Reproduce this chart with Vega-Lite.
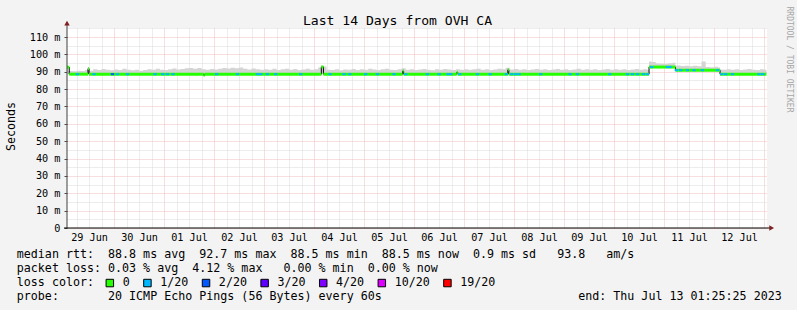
{
  "$schema": "https://vega.github.io/schema/vega-lite/v6.json",
  "width": 700,
  "height": 200,
  "autosize": {"type": "none"},
  "padding": {"left": 67, "top": 28, "right": 30, "bottom": 82},
  "background": "#f3f3f3",
  "config": {
    "view": {"fill": "#ffffff", "stroke": null},
    "font": "DejaVu Sans Mono",
    "axis": {"labelFont": "DejaVu Sans Mono", "titleFont": "DejaVu Sans Mono", "labelColor": "#000000", "titleColor": "#000000", "titleFontWeight": "normal"},
    "legend": {"labelFont": "DejaVu Sans Mono", "titleFont": "DejaVu Sans Mono"}
  },
  "title": {
    "text": "Last 14 Days from OVH CA",
    "anchor": "middle",
    "frame": "group",
    "dx": -19.5,
    "offset": -22,
    "font": "DejaVu Sans Mono",
    "fontSize": 13.1,
    "fontWeight": "normal",
    "color": "#000000"
  },
  "datasets": {
    "runs": [
      {"t": "2023-06-29T01:25:25Z", "t2": "2023-06-29T02:30:00Z", "m": 92.6},
      {"t": "2023-06-29T02:30:00Z", "t2": "2023-06-29T11:30:00Z", "m": 88.6},
      {"t": "2023-06-29T11:30:00Z", "t2": "2023-06-29T12:00:00Z", "m": 91.8},
      {"t": "2023-06-29T12:00:00Z", "t2": "2023-07-01T19:00:00Z", "m": 88.6},
      {"t": "2023-07-01T19:00:00Z", "t2": "2023-07-01T19:30:00Z", "m": 88.0},
      {"t": "2023-07-01T19:30:00Z", "t2": "2023-07-04T03:30:00Z", "m": 88.6},
      {"t": "2023-07-04T03:30:00Z", "t2": "2023-07-04T04:30:00Z", "m": 92.8},
      {"t": "2023-07-04T04:30:00Z", "t2": "2023-07-05T18:30:00Z", "m": 88.6},
      {"t": "2023-07-05T18:30:00Z", "t2": "2023-07-05T19:00:00Z", "m": 90.4},
      {"t": "2023-07-05T19:00:00Z", "t2": "2023-07-06T20:30:00Z", "m": 88.6},
      {"t": "2023-07-06T20:30:00Z", "t2": "2023-07-06T21:00:00Z", "m": 89.6},
      {"t": "2023-07-06T21:00:00Z", "t2": "2023-07-07T21:00:00Z", "m": 88.6},
      {"t": "2023-07-07T21:00:00Z", "t2": "2023-07-07T21:30:00Z", "m": 91.1},
      {"t": "2023-07-07T21:30:00Z", "t2": "2023-07-10T16:48:00Z", "m": 88.6},
      {"t": "2023-07-10T16:48:00Z", "t2": "2023-07-11T05:28:00Z", "m": 92.7},
      {"t": "2023-07-11T05:28:00Z", "t2": "2023-07-12T02:53:00Z", "m": 90.9},
      {"t": "2023-07-12T02:53:00Z", "t2": "2023-07-13T01:10:00Z", "m": 88.6}
    ],
    "loss": [
      {"t": "2023-06-29T06:26:00Z", "m": 88.6, "l": "1/20"},
      {"t": "2023-06-29T14:24:00Z", "m": 88.6, "l": "1/20"},
      {"t": "2023-06-29T23:14:00Z", "m": 88.6, "l": "2/20"},
      {"t": "2023-06-30T01:38:00Z", "m": 88.6, "l": "1/20"},
      {"t": "2023-06-30T06:26:00Z", "m": 88.6, "l": "1/20"},
      {"t": "2023-06-30T19:41:00Z", "m": 88.6, "l": "1/20"},
      {"t": "2023-06-30T23:23:00Z", "m": 88.6, "l": "1/20"},
      {"t": "2023-07-01T01:38:00Z", "m": 88.6, "l": "1/20"},
      {"t": "2023-07-01T04:19:00Z", "m": 88.6, "l": "1/20"},
      {"t": "2023-07-02T01:18:00Z", "m": 88.6, "l": "1/20"},
      {"t": "2023-07-02T11:14:00Z", "m": 88.6, "l": "1/20"},
      {"t": "2023-07-02T20:50:00Z", "m": 88.6, "l": "1/20"},
      {"t": "2023-07-02T22:25:00Z", "m": 88.6, "l": "1/20"},
      {"t": "2023-07-03T01:38:00Z", "m": 88.6, "l": "1/20"},
      {"t": "2023-07-03T05:37:00Z", "m": 88.6, "l": "1/20"},
      {"t": "2023-07-03T17:37:00Z", "m": 88.6, "l": "1/20"},
      {"t": "2023-07-04T07:41:00Z", "m": 88.6, "l": "1/20"},
      {"t": "2023-07-04T14:24:00Z", "m": 88.6, "l": "1/20"},
      {"t": "2023-07-04T17:08:00Z", "m": 88.6, "l": "1/20"},
      {"t": "2023-07-05T00:49:00Z", "m": 88.6, "l": "1/20"},
      {"t": "2023-07-05T06:26:00Z", "m": 88.6, "l": "1/20"},
      {"t": "2023-07-05T14:24:00Z", "m": 88.6, "l": "1/20"},
      {"t": "2023-07-05T20:01:00Z", "m": 88.6, "l": "1/20"},
      {"t": "2023-07-06T06:26:00Z", "m": 88.6, "l": "1/20"},
      {"t": "2023-07-06T12:00:00Z", "m": 88.6, "l": "1/20"},
      {"t": "2023-07-06T16:19:00Z", "m": 88.6, "l": "1/20"},
      {"t": "2023-07-06T17:37:00Z", "m": 88.6, "l": "1/20"},
      {"t": "2023-07-06T21:56:00Z", "m": 88.6, "l": "1/20"},
      {"t": "2023-07-07T06:26:00Z", "m": 88.6, "l": "1/20"},
      {"t": "2023-07-07T12:29:00Z", "m": 88.6, "l": "1/20"},
      {"t": "2023-07-07T20:20:00Z", "m": 88.6, "l": "1/20"},
      {"t": "2023-07-07T22:54:00Z", "m": 88.6, "l": "1/20"},
      {"t": "2023-07-08T00:49:00Z", "m": 88.6, "l": "1/20"},
      {"t": "2023-07-08T02:24:00Z", "m": 88.6, "l": "1/20"},
      {"t": "2023-07-08T12:49:00Z", "m": 88.6, "l": "1/20"},
      {"t": "2023-07-09T02:53:00Z", "m": 88.6, "l": "1/20"},
      {"t": "2023-07-09T06:26:00Z", "m": 88.6, "l": "1/20"},
      {"t": "2023-07-09T21:56:00Z", "m": 88.6, "l": "1/20"},
      {"t": "2023-07-10T06:26:00Z", "m": 88.6, "l": "1/20"},
      {"t": "2023-07-10T08:50:00Z", "m": 88.6, "l": "1/20"},
      {"t": "2023-07-10T11:14:00Z", "m": 88.6, "l": "1/20"},
      {"t": "2023-07-10T14:07:00Z", "m": 88.6, "l": "1/20"},
      {"t": "2023-07-10T16:02:00Z", "m": 88.6, "l": "1/20"},
      {"t": "2023-07-10T18:06:00Z", "m": 92.7, "l": "1/20"},
      {"t": "2023-07-11T01:38:00Z", "m": 92.7, "l": "1/20"},
      {"t": "2023-07-11T02:53:00Z", "m": 92.7, "l": "1/20"},
      {"t": "2023-07-11T05:57:00Z", "m": 90.9, "l": "1/20"},
      {"t": "2023-07-11T08:01:00Z", "m": 90.9, "l": "1/20"},
      {"t": "2023-07-11T11:14:00Z", "m": 90.9, "l": "1/20"},
      {"t": "2023-07-11T14:24:00Z", "m": 90.9, "l": "1/20"},
      {"t": "2023-07-11T18:26:00Z", "m": 90.9, "l": "1/20"},
      {"t": "2023-07-12T01:38:00Z", "m": 90.9, "l": "1/20"},
      {"t": "2023-07-12T03:42:00Z", "m": 88.6, "l": "1/20"},
      {"t": "2023-07-12T05:37:00Z", "m": 88.6, "l": "1/20"},
      {"t": "2023-07-12T08:50:00Z", "m": 88.6, "l": "1/20"},
      {"t": "2023-07-12T21:36:00Z", "m": 88.6, "l": "1/20"},
      {"t": "2023-07-12T23:23:00Z", "m": 88.6, "l": "1/20"}
    ],
    "smoke": [
      {"t": "2023-06-29T01:25:25Z", "lo": 88.6, "hi": 93.4},
      {"t": "2023-06-29T02:00:00Z", "lo": 88.6, "hi": 90.4},
      {"t": "2023-06-29T04:00:00Z", "lo": 88.6, "hi": 90.3},
      {"t": "2023-06-29T06:00:00Z", "lo": 88.6, "hi": 90.6},
      {"t": "2023-06-29T08:00:00Z", "lo": 88.6, "hi": 90.5},
      {"t": "2023-06-29T10:00:00Z", "lo": 88.6, "hi": 91.0},
      {"t": "2023-06-29T12:00:00Z", "lo": 88.6, "hi": 90.6},
      {"t": "2023-06-29T14:00:00Z", "lo": 88.6, "hi": 91.4},
      {"t": "2023-06-29T16:00:00Z", "lo": 88.6, "hi": 91.0},
      {"t": "2023-06-29T18:00:00Z", "lo": 88.6, "hi": 91.6},
      {"t": "2023-06-29T20:00:00Z", "lo": 88.6, "hi": 91.2},
      {"t": "2023-06-29T22:00:00Z", "lo": 88.6, "hi": 90.9},
      {"t": "2023-06-30T00:00:00Z", "lo": 88.6, "hi": 91.3},
      {"t": "2023-06-30T02:00:00Z", "lo": 88.6, "hi": 91.0},
      {"t": "2023-06-30T04:00:00Z", "lo": 88.6, "hi": 91.8},
      {"t": "2023-06-30T06:00:00Z", "lo": 88.6, "hi": 91.1},
      {"t": "2023-06-30T08:00:00Z", "lo": 88.6, "hi": 90.8},
      {"t": "2023-06-30T10:00:00Z", "lo": 88.6, "hi": 91.2},
      {"t": "2023-06-30T12:00:00Z", "lo": 88.6, "hi": 90.6},
      {"t": "2023-06-30T14:00:00Z", "lo": 88.6, "hi": 91.0},
      {"t": "2023-06-30T16:00:00Z", "lo": 88.6, "hi": 91.5},
      {"t": "2023-06-30T18:00:00Z", "lo": 88.6, "hi": 91.1},
      {"t": "2023-06-30T20:00:00Z", "lo": 88.6, "hi": 91.7},
      {"t": "2023-06-30T22:00:00Z", "lo": 88.6, "hi": 91.2},
      {"t": "2023-07-01T00:00:00Z", "lo": 88.6, "hi": 91.0},
      {"t": "2023-07-01T02:00:00Z", "lo": 88.6, "hi": 91.4},
      {"t": "2023-07-01T04:00:00Z", "lo": 88.6, "hi": 91.9},
      {"t": "2023-07-01T06:00:00Z", "lo": 88.6, "hi": 91.3},
      {"t": "2023-07-01T08:00:00Z", "lo": 88.6, "hi": 91.6},
      {"t": "2023-07-01T10:00:00Z", "lo": 88.6, "hi": 92.0},
      {"t": "2023-07-01T12:00:00Z", "lo": 88.6, "hi": 92.2},
      {"t": "2023-07-01T14:00:00Z", "lo": 88.6, "hi": 91.8},
      {"t": "2023-07-01T16:00:00Z", "lo": 88.6, "hi": 92.1},
      {"t": "2023-07-01T18:00:00Z", "lo": 88.6, "hi": 91.5},
      {"t": "2023-07-01T20:00:00Z", "lo": 88.6, "hi": 91.2},
      {"t": "2023-07-01T22:00:00Z", "lo": 88.6, "hi": 91.6},
      {"t": "2023-07-02T00:00:00Z", "lo": 88.6, "hi": 91.3},
      {"t": "2023-07-02T02:00:00Z", "lo": 88.6, "hi": 91.8},
      {"t": "2023-07-02T04:00:00Z", "lo": 88.6, "hi": 92.2},
      {"t": "2023-07-02T06:00:00Z", "lo": 88.6, "hi": 91.9},
      {"t": "2023-07-02T08:00:00Z", "lo": 88.6, "hi": 92.3},
      {"t": "2023-07-02T10:00:00Z", "lo": 88.6, "hi": 92.0},
      {"t": "2023-07-02T12:00:00Z", "lo": 88.6, "hi": 92.4},
      {"t": "2023-07-02T14:00:00Z", "lo": 88.6, "hi": 91.7},
      {"t": "2023-07-02T16:00:00Z", "lo": 88.6, "hi": 91.3},
      {"t": "2023-07-02T18:00:00Z", "lo": 88.6, "hi": 91.9},
      {"t": "2023-07-02T20:00:00Z", "lo": 88.6, "hi": 91.4},
      {"t": "2023-07-02T22:00:00Z", "lo": 88.6, "hi": 91.1},
      {"t": "2023-07-03T00:00:00Z", "lo": 88.6, "hi": 91.5},
      {"t": "2023-07-03T02:00:00Z", "lo": 88.6, "hi": 91.2},
      {"t": "2023-07-03T04:00:00Z", "lo": 88.6, "hi": 91.7},
      {"t": "2023-07-03T06:00:00Z", "lo": 88.6, "hi": 91.0},
      {"t": "2023-07-03T08:00:00Z", "lo": 88.6, "hi": 91.4},
      {"t": "2023-07-03T10:00:00Z", "lo": 88.6, "hi": 91.8},
      {"t": "2023-07-03T12:00:00Z", "lo": 88.6, "hi": 91.2},
      {"t": "2023-07-03T14:00:00Z", "lo": 88.6, "hi": 91.6},
      {"t": "2023-07-03T16:00:00Z", "lo": 88.6, "hi": 91.0},
      {"t": "2023-07-03T18:00:00Z", "lo": 88.6, "hi": 91.3},
      {"t": "2023-07-03T20:00:00Z", "lo": 88.6, "hi": 91.7},
      {"t": "2023-07-03T22:00:00Z", "lo": 88.6, "hi": 91.2},
      {"t": "2023-07-04T00:00:00Z", "lo": 88.6, "hi": 91.4},
      {"t": "2023-07-04T02:00:00Z", "lo": 88.6, "hi": 92.4},
      {"t": "2023-07-04T04:00:00Z", "lo": 88.6, "hi": 93.0},
      {"t": "2023-07-04T06:00:00Z", "lo": 88.6, "hi": 91.2},
      {"t": "2023-07-04T08:00:00Z", "lo": 88.6, "hi": 91.0},
      {"t": "2023-07-04T10:00:00Z", "lo": 88.6, "hi": 91.5},
      {"t": "2023-07-04T12:00:00Z", "lo": 88.6, "hi": 90.9},
      {"t": "2023-07-04T14:00:00Z", "lo": 88.6, "hi": 91.3},
      {"t": "2023-07-04T16:00:00Z", "lo": 88.6, "hi": 91.1},
      {"t": "2023-07-04T18:00:00Z", "lo": 88.6, "hi": 91.6},
      {"t": "2023-07-04T20:00:00Z", "lo": 88.6, "hi": 91.0},
      {"t": "2023-07-04T22:00:00Z", "lo": 88.6, "hi": 91.4},
      {"t": "2023-07-05T00:00:00Z", "lo": 88.6, "hi": 91.2},
      {"t": "2023-07-05T02:00:00Z", "lo": 88.6, "hi": 91.7},
      {"t": "2023-07-05T04:00:00Z", "lo": 88.6, "hi": 91.3},
      {"t": "2023-07-05T06:00:00Z", "lo": 88.6, "hi": 91.0},
      {"t": "2023-07-05T08:00:00Z", "lo": 88.6, "hi": 91.5},
      {"t": "2023-07-05T10:00:00Z", "lo": 88.6, "hi": 91.8},
      {"t": "2023-07-05T12:00:00Z", "lo": 88.6, "hi": 91.2},
      {"t": "2023-07-05T14:00:00Z", "lo": 88.6, "hi": 91.0},
      {"t": "2023-07-05T16:00:00Z", "lo": 88.6, "hi": 91.4},
      {"t": "2023-07-05T18:00:00Z", "lo": 88.6, "hi": 92.0},
      {"t": "2023-07-05T20:00:00Z", "lo": 88.6, "hi": 91.1},
      {"t": "2023-07-05T22:00:00Z", "lo": 88.6, "hi": 91.5},
      {"t": "2023-07-06T00:00:00Z", "lo": 88.6, "hi": 91.0},
      {"t": "2023-07-06T02:00:00Z", "lo": 88.6, "hi": 91.3},
      {"t": "2023-07-06T04:00:00Z", "lo": 88.6, "hi": 91.6},
      {"t": "2023-07-06T06:00:00Z", "lo": 88.6, "hi": 91.2},
      {"t": "2023-07-06T08:00:00Z", "lo": 88.6, "hi": 90.9},
      {"t": "2023-07-06T10:00:00Z", "lo": 88.6, "hi": 91.4},
      {"t": "2023-07-06T12:00:00Z", "lo": 88.6, "hi": 91.1},
      {"t": "2023-07-06T14:00:00Z", "lo": 88.6, "hi": 91.6},
      {"t": "2023-07-06T16:00:00Z", "lo": 88.6, "hi": 91.3},
      {"t": "2023-07-06T18:00:00Z", "lo": 88.6, "hi": 91.0},
      {"t": "2023-07-06T20:00:00Z", "lo": 88.6, "hi": 91.5},
      {"t": "2023-07-06T22:00:00Z", "lo": 88.6, "hi": 91.2},
      {"t": "2023-07-07T00:00:00Z", "lo": 88.6, "hi": 91.5},
      {"t": "2023-07-07T02:00:00Z", "lo": 88.6, "hi": 91.1},
      {"t": "2023-07-07T04:00:00Z", "lo": 88.6, "hi": 91.4},
      {"t": "2023-07-07T06:00:00Z", "lo": 88.6, "hi": 91.8},
      {"t": "2023-07-07T08:00:00Z", "lo": 88.6, "hi": 91.2},
      {"t": "2023-07-07T10:00:00Z", "lo": 88.6, "hi": 91.5},
      {"t": "2023-07-07T12:00:00Z", "lo": 88.6, "hi": 91.0},
      {"t": "2023-07-07T14:00:00Z", "lo": 88.6, "hi": 91.3},
      {"t": "2023-07-07T16:00:00Z", "lo": 88.6, "hi": 91.7},
      {"t": "2023-07-07T18:00:00Z", "lo": 88.6, "hi": 91.4},
      {"t": "2023-07-07T20:00:00Z", "lo": 88.6, "hi": 92.3},
      {"t": "2023-07-07T22:00:00Z", "lo": 88.6, "hi": 91.3},
      {"t": "2023-07-08T00:00:00Z", "lo": 88.6, "hi": 91.6},
      {"t": "2023-07-08T02:00:00Z", "lo": 88.6, "hi": 91.2},
      {"t": "2023-07-08T04:00:00Z", "lo": 88.6, "hi": 91.4},
      {"t": "2023-07-08T06:00:00Z", "lo": 88.6, "hi": 91.0},
      {"t": "2023-07-08T08:00:00Z", "lo": 88.6, "hi": 91.3},
      {"t": "2023-07-08T10:00:00Z", "lo": 88.6, "hi": 91.6},
      {"t": "2023-07-08T12:00:00Z", "lo": 88.6, "hi": 91.1},
      {"t": "2023-07-08T14:00:00Z", "lo": 88.6, "hi": 91.4},
      {"t": "2023-07-08T16:00:00Z", "lo": 88.6, "hi": 91.0},
      {"t": "2023-07-08T18:00:00Z", "lo": 88.6, "hi": 91.3},
      {"t": "2023-07-08T20:00:00Z", "lo": 88.6, "hi": 91.6},
      {"t": "2023-07-08T22:00:00Z", "lo": 88.6, "hi": 91.2},
      {"t": "2023-07-09T00:00:00Z", "lo": 88.6, "hi": 91.4},
      {"t": "2023-07-09T02:00:00Z", "lo": 88.6, "hi": 91.0},
      {"t": "2023-07-09T04:00:00Z", "lo": 88.6, "hi": 91.3},
      {"t": "2023-07-09T06:00:00Z", "lo": 88.6, "hi": 91.7},
      {"t": "2023-07-09T08:00:00Z", "lo": 88.6, "hi": 91.2},
      {"t": "2023-07-09T10:00:00Z", "lo": 88.6, "hi": 91.5},
      {"t": "2023-07-09T12:00:00Z", "lo": 88.6, "hi": 91.1},
      {"t": "2023-07-09T14:00:00Z", "lo": 88.6, "hi": 91.4},
      {"t": "2023-07-09T16:00:00Z", "lo": 88.6, "hi": 91.0},
      {"t": "2023-07-09T18:00:00Z", "lo": 88.6, "hi": 91.3},
      {"t": "2023-07-09T20:00:00Z", "lo": 88.6, "hi": 91.6},
      {"t": "2023-07-09T22:00:00Z", "lo": 88.6, "hi": 91.2},
      {"t": "2023-07-10T00:00:00Z", "lo": 88.6, "hi": 91.5},
      {"t": "2023-07-10T02:00:00Z", "lo": 88.6, "hi": 91.1},
      {"t": "2023-07-10T04:00:00Z", "lo": 88.6, "hi": 91.4},
      {"t": "2023-07-10T06:00:00Z", "lo": 88.6, "hi": 91.0},
      {"t": "2023-07-10T08:00:00Z", "lo": 88.6, "hi": 91.3},
      {"t": "2023-07-10T10:00:00Z", "lo": 88.6, "hi": 91.6},
      {"t": "2023-07-10T12:00:00Z", "lo": 88.6, "hi": 91.2},
      {"t": "2023-07-10T14:00:00Z", "lo": 88.6, "hi": 91.4},
      {"t": "2023-07-10T16:00:00Z", "lo": 88.6, "hi": 91.0},
      {"t": "2023-07-10T16:48:00Z", "lo": 92.7, "hi": 95.9},
      {"t": "2023-07-10T18:00:00Z", "lo": 92.7, "hi": 95.6},
      {"t": "2023-07-10T20:00:00Z", "lo": 92.7, "hi": 94.8},
      {"t": "2023-07-10T22:00:00Z", "lo": 92.7, "hi": 94.6},
      {"t": "2023-07-11T00:00:00Z", "lo": 92.7, "hi": 94.4},
      {"t": "2023-07-11T02:00:00Z", "lo": 92.7, "hi": 94.9},
      {"t": "2023-07-11T04:00:00Z", "lo": 92.7, "hi": 95.2},
      {"t": "2023-07-11T05:28:00Z", "lo": 90.9, "hi": 93.4},
      {"t": "2023-07-11T06:00:00Z", "lo": 90.9, "hi": 93.6},
      {"t": "2023-07-11T08:00:00Z", "lo": 90.9, "hi": 93.3},
      {"t": "2023-07-11T10:00:00Z", "lo": 90.9, "hi": 93.5},
      {"t": "2023-07-11T12:00:00Z", "lo": 90.9, "hi": 93.2},
      {"t": "2023-07-11T14:00:00Z", "lo": 90.9, "hi": 93.4},
      {"t": "2023-07-11T16:00:00Z", "lo": 90.9, "hi": 93.1},
      {"t": "2023-07-11T18:00:00Z", "lo": 90.9, "hi": 95.9},
      {"t": "2023-07-11T20:00:00Z", "lo": 90.9, "hi": 92.8},
      {"t": "2023-07-11T22:00:00Z", "lo": 90.9, "hi": 92.6},
      {"t": "2023-07-12T00:00:00Z", "lo": 90.9, "hi": 92.9},
      {"t": "2023-07-12T02:00:00Z", "lo": 90.9, "hi": 92.5},
      {"t": "2023-07-12T02:53:00Z", "lo": 88.6, "hi": 91.3},
      {"t": "2023-07-12T04:00:00Z", "lo": 88.6, "hi": 91.2},
      {"t": "2023-07-12T06:00:00Z", "lo": 88.6, "hi": 91.5},
      {"t": "2023-07-12T08:00:00Z", "lo": 88.6, "hi": 91.1},
      {"t": "2023-07-12T10:00:00Z", "lo": 88.6, "hi": 91.4},
      {"t": "2023-07-12T12:00:00Z", "lo": 88.6, "hi": 91.0},
      {"t": "2023-07-12T14:00:00Z", "lo": 88.6, "hi": 91.3},
      {"t": "2023-07-12T16:00:00Z", "lo": 88.6, "hi": 91.6},
      {"t": "2023-07-12T18:00:00Z", "lo": 88.6, "hi": 91.2},
      {"t": "2023-07-12T20:00:00Z", "lo": 88.6, "hi": 91.0},
      {"t": "2023-07-12T22:00:00Z", "lo": 88.6, "hi": 91.4},
      {"t": "2023-07-13T00:00:00Z", "lo": 88.6, "hi": 91.2},
      {"t": "2023-07-13T01:10:00Z", "lo": 88.6, "hi": 91.2}
    ]
  },
  "layer": [
    {
      "data": {"name": "smoke"},
      "mark": {"type": "area", "interpolate": "step-after", "color": "#d4d4d4"},
      "encoding": {
        "x": {
          "field": "t", "type": "temporal",
          "scale": {"type": "utc", "nice": false, "domain": [1688001925000, 1689211525000]},
          "axis": {
            "orient": "bottom",
            "values": [1688018400000, 1688040000000, 1688061600000, 1688104800000, 1688126400000, 1688148000000, 1688191200000, 1688212800000, 1688234400000, 1688277600000, 1688299200000, 1688320800000, 1688364000000, 1688385600000, 1688407200000, 1688450400000, 1688472000000, 1688493600000, 1688536800000, 1688558400000, 1688580000000, 1688623200000, 1688644800000, 1688666400000, 1688709600000, 1688731200000, 1688752800000, 1688796000000, 1688817600000, 1688839200000, 1688882400000, 1688904000000, 1688925600000, 1688968800000, 1688990400000, 1689012000000, 1689055200000, 1689076800000, 1689098400000, 1689141600000, 1689163200000, 1689184800000],
            "grid": true,
            "gridColor": "#dadada",
            "gridDash": [1, 1],
            "labels": false,
            "ticks": false,
            "domain": false,
            "title": [
              "median rtt:\u00a0\u00a088.8 ms avg\u00a0\u00a092.7 ms max\u00a0\u00a088.5 ms min\u00a0\u00a088.5 ms now\u00a0\u00a00.9 ms sd\u00a0\u00a0\u00a093.8\u00a0\u00a0\u00a0am/s",
              "packet loss:\u00a00.03 % avg\u00a0\u00a04.12 % max\u00a0\u00a0\u00a00.00 % min\u00a0\u00a00.00 % now",
              "loss color:",
              "probe:\u00a0\u00a0\u00a0\u00a0\u00a0\u00a0\u00a020 ICMP Echo Pings (56 Bytes) every 60s\u00a0\u00a0\u00a0\u00a0\u00a0\u00a0\u00a0\u00a0\u00a0\u00a0\u00a0\u00a0\u00a0\u00a0\u00a0\u00a0\u00a0\u00a0\u00a0\u00a0\u00a0\u00a0\u00a0\u00a0\u00a0\u00a0\u00a0\u00a0end: Thu Jul 13 01:25:25 2023"
            ],
            "titleFontSize": 11.66,
            "titleAlign": "left",
            "titleBaseline": "alphabetic",
            "titleAngle": 0,
            "titleX": -50.7,
            "titleY": 29.3,
            "titleLineHeight": 14.23
          }
        },
        "y": {
          "field": "hi", "type": "quantitative",
          "scale": {"domain": [0, 115.2], "nice": false, "zero": false},
          "axis": {
            "orient": "left",
            "values": [5, 15, 25, 35, 45, 55, 65, 75, 85, 95, 105, 115],
            "grid": true,
            "gridColor": "#dadada",
            "gridDash": [1, 1],
            "labels": false,
            "ticks": false,
            "domain": false,
            "title": null
          }
        },
        "y2": {"field": "lo"}
      }
    },
    {
      "data": {"name": "runs"},
      "mark": {"type": "line", "interpolate": "step-after", "color": "#000000", "strokeWidth": 1},
      "encoding": {
        "x": {
          "field": "t", "type": "temporal",
          "axis": {
            "orient": "bottom",
            "values": [1688040000000, 1688126400000, 1688212800000, 1688299200000, 1688385600000, 1688472000000, 1688558400000, 1688644800000, 1688731200000, 1688817600000, 1688904000000, 1688990400000, 1689076800000, 1689163200000],
            "format": "%d %b",
            "grid": false,
            "ticks": false,
            "domain": false,
            "labelFontSize": 10.2,
            "labelBaseline": "alphabetic",
            "labelPadding": 12.5,
            "labelOverlap": false,
            "labelFlush": false,
            "title": null
          }
        },
        "y": {
          "field": "m", "type": "quantitative",
          "axis": {
            "orient": "right",
            "labels": false,
            "ticks": false,
            "domain": false,
            "grid": false,
            "title": "RRDTOOL / TOBI OETIKER",
            "titleFontSize": 8,
            "titleColor": "#a6a6a6",
            "titleAngle": 90,
            "titleAlign": "center",
            "titleBaseline": "middle",
            "titleX": 21,
            "titleY": 31
          }
        }
      }
    },
    {
      "data": {"name": "runs"},
      "mark": {"type": "rule", "color": "#26ff00", "strokeWidth": 3},
      "encoding": {
        "x": {
          "field": "t", "type": "temporal",
          "axis": {
            "orient": "bottom",
            "values": [1688083200000, 1688169600000, 1688256000000, 1688342400000, 1688428800000, 1688515200000, 1688601600000, 1688688000000, 1688774400000, 1688860800000, 1688947200000, 1689033600000, 1689120000000, 1689206400000],
            "grid": true,
            "gridColor": "#f0bcbc",
            "gridDash": [1, 1],
            "labels": false,
            "ticks": false,
            "domain": false,
            "title": null
          }
        },
        "x2": {"field": "t2"},
        "y": {
          "field": "m", "type": "quantitative",
          "axis": {
            "orient": "left",
            "values": [0, 10, 20, 30, 40, 50, 60, 70, 80, 90, 100, 110],
            "grid": true,
            "gridColor": "#f0bcbc",
            "gridDash": [1, 1],
            "labelExpr": "datum.value == 0 ? '0' : datum.value + ' m'",
            "labelFontSize": 10.2,
            "labelOverlap": false,
            "labelPadding": 4,
            "ticks": true,
            "tickSize": 3,
            "tickColor": "#505050",
            "domain": false,
            "title": "Seconds",
            "titleFontSize": 11.66,
            "titleAngle": -90,
            "titleAlign": "center",
            "titleBaseline": "middle",
            "titleX": -56,
            "titleY": 98
          }
        }
      }
    },
    {
      "data": {"name": "loss"},
      "mark": {"type": "tick", "size": 3.4, "thickness": 2, "opacity": 1},
      "encoding": {
        "x": {"field": "t", "type": "temporal", "axis": null},
        "y": {"field": "m", "type": "quantitative", "axis": null},
        "color": {
          "field": "l", "type": "nominal",
          "scale": {
            "domain": ["0", "1/20", "2/20", "3/20", "4/20", "10/20", "19/20"],
            "range": ["#26ff00", "#00b8ff", "#0059ff", "#5e00ff", "#7e00ff", "#dd00ff", "#ff0000"]
          },
          "legend": {
            "orient": "none",
            "legendX": 37,
            "legendY": 249,
            "direction": "horizontal",
            "title": null,
            "padding": 0,
            "symbolType": "square",
            "symbolSize": 56,
            "symbolStrokeColor": "#000000",
            "symbolStrokeWidth": 1,
            "symbolOpacity": 1,
            "labelFontSize": 11.66,
            "labelColor": "#000000",
            "labelOffset": 7,
            "columnPadding": 11.6
          }
        }
      }
    },
    {
      "data": {"values": [{}]},
      "mark": {"type": "rule", "color": "#404040", "strokeWidth": 1},
      "encoding": {
        "x": {"datum": 1688001925000, "type": "temporal", "axis": null},
        "y": {"datum": 0, "type": "quantitative", "axis": null},
        "y2": {"datum": 117.5}
      }
    },
    {
      "data": {"values": [{}]},
      "mark": {"type": "rule", "color": "#000000", "strokeWidth": 1},
      "encoding": {
        "x": {"datum": 1687996800000, "type": "temporal", "axis": null},
        "x2": {"datum": 1689218400000},
        "y": {"datum": 0, "type": "quantitative", "axis": null}
      }
    },
    {
      "data": {"values": [{}]},
      "mark": {"type": "point", "shape": "triangle-up", "filled": true, "size": 30, "color": "#7f1f1f", "opacity": 1},
      "encoding": {
        "x": {"datum": 1688001925000, "type": "temporal", "axis": null},
        "y": {"datum": 118.0, "type": "quantitative", "axis": null}
      }
    },
    {
      "data": {"values": [{}]},
      "mark": {"type": "point", "shape": "triangle-right", "filled": true, "size": 30, "color": "#7f1f1f", "opacity": 1},
      "encoding": {
        "x": {"datum": 1689219600000, "type": "temporal", "axis": null},
        "y": {"datum": 0, "type": "quantitative", "axis": null}
      }
    }
  ],
  "resolve": {"axis": {"x": "independent", "y": "independent"}}
}
